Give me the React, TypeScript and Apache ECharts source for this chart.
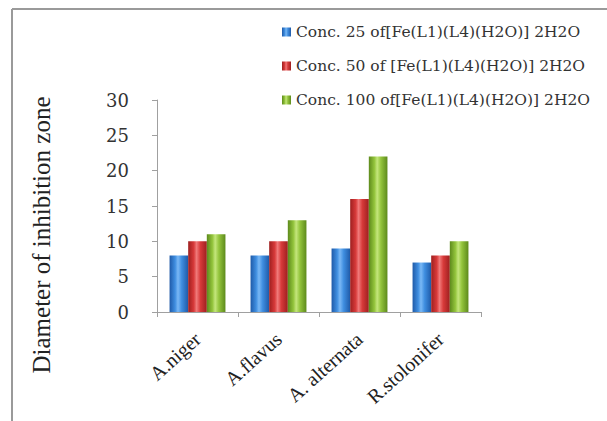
import React, { useEffect, useRef } from "react";
import * as echarts from "echarts";

const categories = ["A.niger", "A.flavus", "A. alternata", "R.stolonifer"];
const seriesNames = [
  "Conc. 25 of[Fe(L1)(L4)(H2O)] 2H2O",
  "Conc. 50 of [Fe(L1)(L4)(H2O)] 2H2O",
  "Conc. 100 of[Fe(L1)(L4)(H2O)] 2H2O",
];
const conc25 = [8, 8, 9, 7];
const conc50 = [10, 10, 16, 8];
const conc100 = [11, 13, 22, 10];
const yTicks = [0, 5, 10, 15, 20, 25, 30];
const yTitle = "Diameter of inhibition zone";

const palettes = [
  { dark: "#1f5aa8", mid: "#3f8ee0", light: "#7ab8f5" },
  { dark: "#9e1f1f", mid: "#d83a3a", light: "#f07a7a" },
  { dark: "#5d8a1c", mid: "#93c43c", light: "#c4e67c" },
];

function grad(p: { dark: string; mid: string; light: string }) {
  return new echarts.graphic.LinearGradient(0, 0, 1, 0, [
    { offset: 0, color: p.dark },
    { offset: 0.3, color: p.mid },
    { offset: 0.45, color: p.light },
    { offset: 0.65, color: p.mid },
    { offset: 1, color: p.dark },
  ]);
}

export default function App() {
  const ref = useRef<HTMLDivElement>(null);
  useEffect(() => {
    document.body.style.margin = "0";
    const chart = echarts.init(ref.current!, null, { renderer: "svg" });
    const values = [conc25, conc50, conc100];
    chart.setOption({
      animation: false,
      backgroundColor: "#ffffff",
      grid: { left: 157, right: 126, top: 100, bottom: 109 },
      legend: {
        orient: "vertical",
        left: 277,
        top: 19,
        itemWidth: 9,
        itemHeight: 9,
        itemGap: 18,
        icon: "rect",
        textStyle: { fontFamily: "DejaVu Serif", fontSize: 15.5, color: "#333" },
        data: seriesNames,
      },
      xAxis: {
        type: "category",
        data: categories,
        axisLine: { lineStyle: { color: "#a0a0a0", width: 1 } },
        axisTick: { show: true, length: 5, lineStyle: { color: "#a0a0a0" } },
        axisLabel: {
          rotate: 42,
          fontFamily: "Liberation Serif",
          fontSize: 20,
          color: "#222",
          margin: 24,
        },
      },
      yAxis: {
        type: "value",
        min: 0,
        max: 30,
        interval: 5,
        axisLine: { show: true, lineStyle: { color: "#a0a0a0" } },
        axisTick: { show: true, length: 5, lineStyle: { color: "#a0a0a0" } },
        splitLine: { show: false },
        axisLabel: {
          fontFamily: "DejaVu Serif",
          fontSize: 18,
          color: "#333",
          margin: 28,
          formatter: (v: number) => (yTicks.includes(v) ? String(v) : ""),
        },
      },
      series: values.map((d, i) => ({
        name: seriesNames[i],
        type: "bar",
        data: d,
        barGap: "0%",
        barCategoryGap: "31%",
        itemStyle: { color: grad(palettes[i]) },
      })),
      graphic: [
        {
          type: "line",
          shape: { x1: 12, y1: 9, x2: 607, y2: 9 },
          style: { stroke: "#9a9a9a", lineWidth: 2 },
        },
        {
          type: "line",
          shape: { x1: 12, y1: 9, x2: 12, y2: 421 },
          style: { stroke: "#9a9a9a", lineWidth: 2 },
        },
        {
          type: "text",
          x: 41,
          y: 235,
          rotation: Math.PI / 2,
          style: {
            text: yTitle,
            fontFamily: "Liberation Serif",
            fontSize: 25,
            fill: "#222",
            align: "center",
            verticalAlign: "middle",
          },
        },
      ],
    });
    return () => chart.dispose();
  }, []);
  return <div ref={ref} style={{ width: 607, height: 421 }} />;
}
